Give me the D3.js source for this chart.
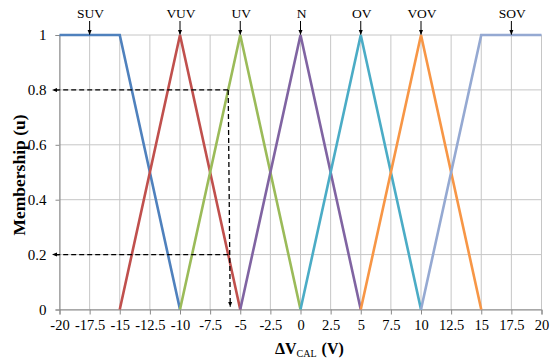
<!DOCTYPE html>
<html>
<head>
<meta charset="utf-8">
<script src="https://cdn.jsdelivr.net/npm/d3@7"></script>
<style>
  html, body { margin: 0; padding: 0; background: #fff; }
  svg { display: block; font-family: "Liberation Serif", "Times New Roman", serif; }
</style>
</head>
<body>
<svg id="chart" width="550" height="363"></svg>
<script>
// Fuzzy membership sets over ΔV_CAL (V)
const setNames = ["SUV", "VUV", "UV", "N", "OV", "VOV", "SOV"];
const setPeaks = [-17.5, -10, -5, 0, 5, 10, 17.5];
const setColors = ["#4f81bd", "#c0504d", "#9bbb59", "#8064a2", "#4bacc6", "#f79646", "#95a9d2"];
const setVoltages = [
  [-20, -15, -10],
  [-15, -10, -5],
  [-10, -5, 0],
  [-5, 0, 5],
  [0, 5, 10],
  [5, 10, 15],
  [10, 15, 20]
];
const setMemberships = [
  [1, 1, 0],
  [0, 1, 0],
  [0, 1, 0],
  [0, 1, 0],
  [0, 1, 0],
  [0, 1, 0],
  [0, 1, 1]
];
const xTicks = [-20, -17.5, -15, -12.5, -10, -7.5, -5, -2.5, 0, 2.5, 5, 7.5, 10, 12.5, 15, 17.5, 20];
const yTicks = [0, 0.2, 0.4, 0.6, 0.8, 1];
// Worked example: input at -6 V gives UV = 0.8 and VUV = 0.2
const exampleInput = -6;
const exampleLevels = [0.8, 0.2];

const svg = d3.select("#chart");
const plotL = 59.5, plotR = 541.5, plotT = 35, plotB = 309.5;

const x = d3.scaleLinear().domain([-20, 20]).range([plotL, plotR]);
const y = d3.scaleLinear().domain([0, 1]).range([plotB, plotT]);

const defs = svg.append("defs");
defs.append("marker").attr("id", "arr").attr("viewBox", "0 0 10 10")
  .attr("refX", 9).attr("refY", 5).attr("markerWidth", 5).attr("markerHeight", 5)
  .attr("markerUnits", "userSpaceOnUse")
  .attr("orient", "auto-start-reverse")
  .append("path").attr("d", "M0,1 L10,5 L0,9 Z").attr("fill", "#000");

// Grid
const grid = svg.append("g");
grid.selectAll("line.v").data(xTicks).join("line")
  .attr("x1", d => x(d)).attr("x2", d => x(d))
  .attr("y1", plotT).attr("y2", plotB)
  .attr("stroke", "#c6c6c6").attr("stroke-width", 1);
grid.selectAll("line.h").data(yTicks).join("line")
  .attr("x1", plotL).attr("x2", plotR)
  .attr("y1", d => y(d)).attr("y2", d => y(d))
  .attr("stroke", "#c6c6c6").attr("stroke-width", 1);

// Axes
const xAxis = svg.append("g").attr("transform", `translate(0,${plotB})`)
  .call(d3.axisBottom(x).tickValues(xTicks).tickSize(5).tickPadding(5)
    .tickFormat(d => String(d)));
xAxis.select(".domain").attr("stroke", "#8a8a8a");
xAxis.selectAll(".tick line").attr("stroke", "#8a8a8a");
xAxis.selectAll("text").attr("font-size", 14.5).attr("font-family", "Liberation Serif").attr("fill", "#000");

const yAxis = svg.append("g").attr("transform", `translate(${plotL},0)`)
  .call(d3.axisLeft(y).tickValues(yTicks).tickSize(4).tickPadding(9)
    .tickFormat(d => String(d)));
yAxis.select(".domain").attr("stroke", "#8a8a8a");
yAxis.selectAll(".tick line").attr("stroke", "#8a8a8a");
yAxis.selectAll("text").attr("font-size", 15).attr("font-family", "Liberation Serif").attr("fill", "#000");

// Membership functions
const line = d3.line().x(d => x(d[0])).y(d => y(d[1]));
svg.append("g").selectAll("path").data(setNames).join("path")
  .attr("d", (d, i) => line(setVoltages[i].map((v, k) => [v, setMemberships[i][k]])))
  .attr("fill", "none")
  .attr("stroke", (d, i) => setColors[i])
  .attr("stroke-width", 2.6)
  .attr("stroke-linejoin", "miter");

// Set labels with arrows
const lab = svg.append("g");
lab.selectAll("text").data(setNames).join("text")
  .attr("x", (d, i) => x(setPeaks[i]) + 1)
  .attr("y", 17.5)
  .attr("text-anchor", "middle")
  .attr("font-size", 13.5)
  .text(d => d);
lab.selectAll("line").data(setPeaks).join("line")
  .attr("x1", d => x(d)).attr("x2", d => x(d))
  .attr("y1", 21).attr("y2", plotT - 0.5)
  .attr("stroke", "#000").attr("stroke-width", 1)
  .attr("marker-end", "url(#arr)");

// Example readout lines
const ex = svg.append("g").attr("stroke", "#000").attr("stroke-width", 1.3)
  .attr("stroke-dasharray", "5,3").attr("fill", "none");
exampleLevels.forEach(lv => {
  ex.append("line")
    .attr("x1", x(exampleInput)).attr("y1", y(lv))
    .attr("x2", plotL - 7).attr("y2", y(lv))
    .attr("marker-end", "url(#arr)");
});
ex.append("line")
  .attr("x1", x(exampleInput)).attr("y1", y(exampleLevels[0]))
  .attr("x2", x(exampleInput) + 2).attr("y2", y(0) - 3)
  .attr("marker-end", "url(#arr)");

// Axis titles
svg.append("text")
  .attr("transform", `translate(25,175) rotate(-90)`)
  .attr("text-anchor", "middle")
  .attr("font-size", 17.5).attr("font-weight", "bold")
  .text("Membership (u)");

const xt = svg.append("text")
  .attr("x", 275).attr("y", 354)
  .attr("text-anchor", "start")
  .attr("font-size", 16).attr("font-weight", "bold");
xt.append("tspan").text("ΔV");
xt.append("tspan").attr("font-size", 10).attr("font-weight", "normal").attr("dy", 3).text("CAL");
xt.append("tspan").attr("dy", -3).attr("dx", 5).text("(V)");
</script>
</body>
</html>
